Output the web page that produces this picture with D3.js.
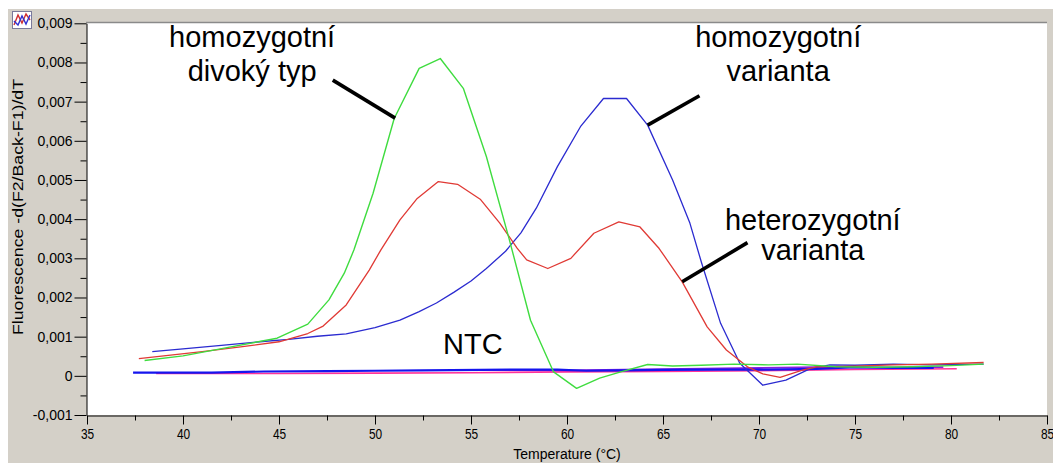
<!DOCTYPE html>
<html>
<head>
<meta charset="utf-8">
<script src="https://cdn.jsdelivr.net/npm/d3@7"></script>
<style>
  html, body { margin: 0; padding: 0; background: #ffffff; }
  svg { display: block; }
  text { font-family: "Liberation Sans", Arial, sans-serif; fill: #000; }
</style>
</head>
<body>
<svg id="chart" width="1053" height="463"></svg>
<script>
// ---------------- data ----------------
const xTicks = [35, 40, 45, 50, 55, 60, 65, 70, 75, 80, 85];
const yTicks = [-0.001, 0, 0.001, 0.002, 0.003, 0.004, 0.005, 0.006, 0.007, 0.008, 0.009];
const yTickLabels = ["-0,001", "0", "0,001", "0,002", "0,003", "0,004", "0,005", "0,006", "0,007", "0,008", "0,009"];

// homozygotní divoký typ (green)
const greenT = [38.0, 40, 42.5, 44.9, 46.5, 47.6, 48.4, 48.9, 49.9, 51.0, 52.3, 53.4, 54.6, 55.8, 57.0, 58.1, 59.3, 60.5, 61.7, 62.8, 64.2, 65.5, 67, 68.7, 70.5, 72, 74, 76, 78, 80, 81.7];
const greenV = [0.00039, 0.00051, 0.00074, 0.00096, 0.00132, 0.00194, 0.00262, 0.00321, 0.00466, 0.00657, 0.00785, 0.0081, 0.00734, 0.0056, 0.00347, 0.00142, 0.0001, -0.00032, -0.00006, 0.0001, 0.00029, 0.00025, 0.00027, 0.0003, 0.00028, 0.0003, 0.00023, 0.00022, 0.00023, 0.00026, 0.0003];

// heterozygotní varianta (red)
const redT = [37.7, 39, 41, 43, 45, 46.5, 47.3, 48.5, 49.7, 50.3, 51.3, 52.2, 53.3, 54.3, 55.5, 56.5, 57.4, 57.9, 59.0, 60.2, 61.4, 62.7, 63.8, 64.8, 66.0, 67.3, 68.3, 69.4, 70.2, 71.1, 72.3, 73.0, 75, 77, 79, 81.7];
const redV = [0.00044, 0.00051, 0.00062, 0.00074, 0.00087, 0.00108, 0.00127, 0.00181, 0.0027, 0.00321, 0.00398, 0.00453, 0.00496, 0.00489, 0.0045, 0.0039, 0.00326, 0.00296, 0.00274, 0.003, 0.00364, 0.00393, 0.0038, 0.00325, 0.0024, 0.00125, 0.00066, 0.00023, 0.00005, -0.00004, 0.00015, 0.00023, 0.00025, 0.00028, 0.0003, 0.00034];

// homozygotní varianta (blue)
const blueT = [38.4, 40, 42, 44, 45.5, 47, 48.5, 50, 51.3, 52.3, 53.2, 54.1, 55, 55.8, 56.8, 57.6, 58.4, 59.5, 60.7, 61.9, 63.1, 64.2, 65.5, 66.4, 67.0, 68.0, 69.0, 70.2, 71.4, 72.7, 73.7, 75, 77, 79, 81.7];
const blueV = [0.00062, 0.00069, 0.00078, 0.00087, 0.00093, 0.00101, 0.00107, 0.00123, 0.00142, 0.00164, 0.00186, 0.00213, 0.00242, 0.00274, 0.00318, 0.00365, 0.00428, 0.00534, 0.00636, 0.00708, 0.00708, 0.0064, 0.005, 0.0039, 0.0029, 0.00134, 0.00032, -0.00024, -0.00011, 0.00019, 0.00028, 0.00027, 0.0003, 0.00028, 0.0003];

// NTC (no template controls)
const ntcBlueT = [37.4, 41.5, 44.2, 47.5, 50.0, 52.5, 55.5, 57.5, 59.5, 61.0, 63.0, 65.0, 68.0, 70.5, 73.0, 75.0, 77.0, 79.1];
const ntcBlueV = [0.00008, 0.00008, 0.00011, 0.00012, 0.00013, 0.00014, 0.00015, 0.00016, 0.00016, 0.00013, 0.00014, 0.00015, 0.00016, 0.00016, 0.00018, 0.00022, 0.0002, 0.0002];
const ntcPinkT = [38.6, 45, 50, 55, 60, 65, 70, 75, 80.3];
const ntcPinkV = [0.00006, 0.00006, 0.00007, 0.00008, 0.0001, 0.00011, 0.00013, 0.00016, 0.00018];
const ntcPurpleT = [55, 60, 63, 66, 70, 73, 76, 79.6];
const ntcPurpleV = [0.00015, 0.00014, 0.00016, 0.00018, 0.0002, 0.00022, 0.00021, 0.00022];

// annotations
const annoText = [
  { lines: ["homozygotní", "divoký typ"], T: 43.6, v: 0.0084, gap: 34 },
  { lines: ["homozygotní", "varianta"], T: 71.0, v: 0.0084, gap: 34 },
  { lines: ["heterozygotní", "varianta"], T: 72.8, v: 0.00372, gap: 30 },
  { lines: ["NTC"], T: 55.1, v: 0.00055, gap: 0 }
];
const leaders = [
  { T1: 47.8, v1: 0.00755, T2: 51.05, v2: 0.00658 },
  { T1: 64.2, v1: 0.0064, T2: 66.9, v2: 0.00715 },
  { T1: 66.0, v1: 0.0024, T2: 69.4, v2: 0.0034 }
];

// ---------------- drawing ----------------
const svg = d3.select("#chart");
const x = d3.scaleLinear().domain([35, 85]).range([87, 1047]);
const y = d3.scaleLinear().domain([-0.001, 0.009]).range([415, 23.3]);

// window background
svg.append("rect").attr("x", 8).attr("y", 9).attr("width", 1045).attr("height", 454).attr("fill", "#d4d0c8");
// plot area
svg.append("rect").attr("x", 87).attr("y", 23).attr("width", 960).attr("height", 392).attr("fill", "#ffffff");
svg.append("line").attr("x1", 86).attr("x2", 1047).attr("y1", 22.5).attr("y2", 22.5).attr("stroke", "#8a8a8a").attr("stroke-width", 1.5);

// small icon
const icon = svg.append("g").attr("transform", "translate(12,11)");
icon.append("rect").attr("x", 0.5).attr("y", 0.5).attr("width", 19).attr("height", 17).attr("fill", "#ffffff").attr("stroke", "#7a7a9a");
icon.append("path").attr("d", "M2,14 L6,4 L10,12 L14,3 L18,9").attr("fill", "none").attr("stroke", "#d03030").attr("stroke-width", 1.4);
icon.append("path").attr("d", "M2,10 L6,14 L10,5 L14,13 L18,4").attr("fill", "none").attr("stroke", "#3030d0").attr("stroke-width", 1.4);

// axes
const yAxis = d3.axisLeft(y).tickValues(yTicks).tickSize(12).tickSizeOuter(0).tickPadding(2)
  .tickFormat(d => yTickLabels[yTicks.indexOf(d)]);
const gy = svg.append("g").attr("transform", "translate(86.5,0)").call(yAxis);
gy.selectAll("text").style("font-size", "14px");
const yMinor = d3.range(0, 10).map(i => -0.0005 + i * 0.001);
svg.append("g").attr("transform", "translate(86.5,0)")
  .call(d3.axisLeft(y).tickValues(yMinor).tickSize(6).tickFormat(""))
  .call(g => g.select(".domain").remove());

const xAxis = d3.axisBottom(x).tickValues(xTicks).tickSize(9).tickSizeOuter(0).tickPadding(5).tickFormat(d3.format("d"));
const gx = svg.append("g").attr("transform", "translate(0,415.5)").call(xAxis);
gx.selectAll("text").style("font-size", "14px").attr("transform", "scale(0.85,1)");
const xMinor = d3.range(0, 10).map(i => 37.5 + i * 5);
svg.append("g").attr("transform", "translate(0,415.5)")
  .call(d3.axisBottom(x).tickValues(xMinor).tickSize(5).tickFormat(""))
  .call(g => g.select(".domain").remove());
svg.selectAll(".domain, .tick line").attr("stroke", "#000");

// axis titles
svg.append("text").attr("x", 567).attr("y", 459).attr("text-anchor", "middle")
  .style("font-size", "14px").text("Temperature (°C)");
svg.append("text").attr("transform", "translate(23,207) rotate(-90)").attr("text-anchor", "middle")
  .attr("textLength", 256).attr("lengthAdjust", "spacingAndGlyphs")
  .style("font-size", "15px").text("Fluorescence -d(F2/Back-F1)/dT");

// curves
const line = d3.line().x(d => x(d[0])).y(d => y(d[1]));
const zipSeries = (ts, vs) => ts.map((t, i) => [t, vs[i]]);
const series = [
  { T: ntcPinkT, V: ntcPinkV, color: "#ff3399", w: 1.6 },
  { T: ntcPurpleT, V: ntcPurpleV, color: "#8a1fe0", w: 1.8 },
  { T: ntcBlueT, V: ntcBlueV, color: "#1515ee", w: 2.2 },
  { T: blueT, V: blueV, color: "#2b2bd0", w: 1.3 },
  { T: redT, V: redV, color: "#e03a35", w: 1.3 },
  { T: greenT, V: greenV, color: "#3fdc3f", w: 1.4 }
];
svg.append("g").selectAll("path").data(series).join("path")
  .attr("d", s => line(zipSeries(s.T, s.V)))
  .attr("fill", "none").attr("stroke", s => s.color).attr("stroke-width", s => s.w)
  .attr("stroke-linejoin", "round");

// leader lines
svg.append("g").selectAll("line").data(leaders).join("line")
  .attr("x1", d => x(d.T1)).attr("y1", d => y(d.v1))
  .attr("x2", d => x(d.T2)).attr("y2", d => y(d.v2))
  .attr("stroke", "#000").attr("stroke-width", 3.6);

// annotation texts
const ann = svg.append("g").selectAll("text").data(annoText).join("text")
  .attr("text-anchor", "middle")
  .attr("x", d => x(d.T)).attr("y", d => y(d.v))
  .style("font-size", "29px");
ann.selectAll("tspan").data(d => d.lines.map(l => ({ l, x: x(d.T), gap: d.gap }))).join("tspan")
  .attr("x", d => d.x).attr("dy", (d, i) => i === 0 ? 0 : d.gap).text(d => d.l);
</script>
</body>
</html>
